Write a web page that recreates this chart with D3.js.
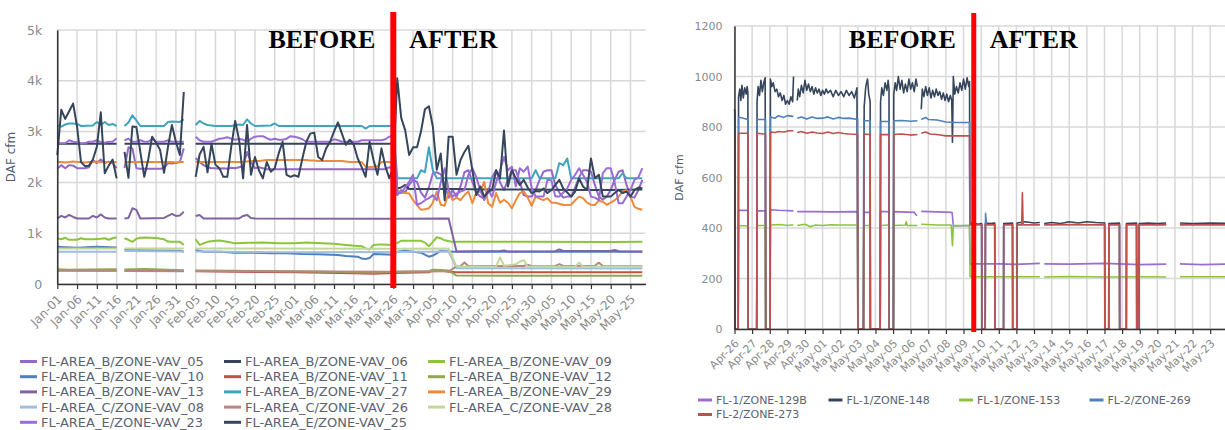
<!DOCTYPE html>
<html>
<head>
<meta charset="utf-8">
<script src="https://cdn.jsdelivr.net/npm/d3@7"></script>
<style>
  html, body { margin: 0; padding: 0; background: #fff; }
  svg { display: block; font-family: "DejaVu Sans", sans-serif; }
</style>
</head>
<body>
<svg id="chart" width="1225" height="430"></svg>
<script>
// ---------- left chart: days from Jan-01 2020, DAF cfm (null = no data) ----------
const leftTickLabels = ["Jan-01","Jan-06","Jan-11","Jan-16","Jan-21","Jan-26","Jan-31","Feb-05","Feb-10","Feb-15",
  "Feb-20","Feb-25","Mar-01","Mar-06","Mar-11","Mar-16","Mar-21","Mar-26","Mar-31","Apr-05","Apr-10","Apr-15",
  "Apr-20","Apr-25","Apr-30","May-05","May-10","May-15","May-20","May-25"];
const leftYTicks = [0, 1000, 2000, 3000, 4000, 5000];

// daily values (index = day)
const vav05 = [2270,2340,2280,2340,2330,2280,2280,2280,2300,2440,2380,2450,2380,2410,2380,2280,null,
  2280,2690,2670,2280,2270,2270,2270,2270,2270,2270,2280,2380,2370,2380,2400,2670,null,null,
  2480,2400,2340,2300,2280,2280,2270,2280,2270,2290,2280,2300,2320,2600,2400,2280,2300,2280,
  2260,2260,2260,2260,2260,2260,2260,2260,2260,2260,2260,2260,2260,2260,2260,2260,2260,2260,2260,2260,
  2260,2260,2260,2260,2260,2260,2260,2260,2260,2260,2260,2300,2250,
  1750,1850,1800,1950,2050,2010,1800,1700,1900,2180,2200,2160,1950,1700,1850,1720,1920,2200,2240,2010,
  1800,1720,1680,1800,2100,2240,2000,1850,2050,2240,2240,2010,1750,1720,1720,1850,2050,2210,2240,2240,
  1950,1800,1700,1720,1720,1900,2100,2240,2240,2210,1950,1720,1660,1720,1850,2050,2210,2240,1950,1720,
  1700,1850,2050];
const vav23 = [2770,2770,2770,2830,2800,2790,2770,2770,2800,2800,2830,2790,2780,2800,2800,2870,null,
  2830,2860,2800,2800,2830,2800,2800,2860,2800,2800,2800,2830,2800,2800,2800,2800,null,null,
  2900,2830,2800,2800,2800,2830,2860,2870,2890,2860,2840,2860,2840,2800,2860,2900,2910,2910,2870,2840,
  2860,2840,2840,2860,2910,2900,2880,2850,2800,2800,2800,2800,2800,2800,2800,2850,2830,2800,2800,2800,
  2800,2800,2830,2830,2830,2830,2830,2830,2850,2900,2920,
  1800,1790,1900,2010,2150,1560,1590,1650,1690,1750,1650,2000,2280,1850,1720,1780,1820,1850,2150,2280,
  2100,1850,1650,1850,1720,2000,2240,2500,2240,2310,1920,2280,2210,2310,1900,1720,1720,1720,2050,2040,
  1720,1720,1800,1880,2050,2150,2280,2150,2010,1720,1700,1650,2180,2280,2280,2000,1590,1590,1720,1850,
  2050,2100,2280];
const vav25 = [2540,3430,3250,3400,3550,3100,2400,2320,2330,2450,2700,3380,2180,2330,2450,2080,null,
  2600,2090,3100,3090,2600,2110,2450,2900,2780,2640,2190,2700,3130,2800,2540,3780,null,null,
  2110,2550,2700,2200,2760,2350,2280,2110,2110,2700,3210,2830,2080,3130,2150,2500,2240,2080,2400,2210,
  2280,2570,2800,2150,2110,2140,2110,2470,2800,2960,2980,2500,2440,2670,2800,3000,3180,2960,2740,2840,
  2740,2470,2300,2110,2800,2440,2150,2670,2310,2080,2300,
  4050,3270,3030,2540,2690,2690,3000,3440,3500,3100,2250,2570,1650,2900,2900,2150,2440,2600,2720,2240,
  1750,1920,1720,1820,1850,2240,2080,3020,1920,2240,2080,1950,2050,1900,1790,1830,1820,1880,1790,1850,
  1950,2050,1880,1800,1720,1820,2080,1920,1850,2470,2080,2150,1720,1720,1720,1790,1850,1790,1820,1720,
  1850,1900,1880];
const vav29 = [2400,2400,2390,2400,2410,2400,2400,2390,2400,2400,2410,2400,2400,2400,2390,2400,null,
  2390,2400,2400,2400,2400,2400,2400,2400,2400,2400,2400,2400,2400,2390,2400,2400,null,null,
  2400,2400,2400,2400,2400,2400,2400,2400,2400,2400,2400,2400,2400,2410,2420,2420,2420,2430,
  2440,2440,2440,2440,2440,2440,2440,2440,2440,2440,2440,2430,2430,2420,2420,2420,2420,2420,2420,2420,
  2410,2400,2400,2400,2400,2310,2300,2310,2320,2400,2400,2400,2400,
  1850,1800,1790,1780,1650,1555,1460,1470,1490,1600,1820,1560,1540,1820,1650,1700,1650,1750,1820,1590,
  1800,1820,2010,1590,1520,1790,1600,1660,1600,1490,1650,1790,1820,1700,1540,1720,1680,1650,1690,1600,
  1600,1580,1555,1555,1560,1650,1720,1690,1600,1560,1555,1640,1620,1560,1600,1650,1720,1820,1850,1720,
  1520,1480,1460];

// [day, value] pairs
const vav06 = [[0,2760],[15,2760],[16,null],[17,2760],[32,2760],[33,null],[35,2760],[85,2760],[86,1880],[87,1900],
  [88,1950],[89,1870],[100,1870],[110,1860],[120,1860],[130,1850],[140,1850],[148,1860]];
const vav09 = [[0,900],[1,880],[2,910],[3,870],[5,870],[6,900],[7,880],[9,880],[11,890],[12,900],[13,870],[14,900],
  [15,920],[16,null],[17,900],[18,870],[19,830],[20,890],[21,910],[22,915],[25,905],[27,880],[28,835],[29,830],[31,830],
  [32,770],[33,null],[35,880],[36,770],[37,800],[38,830],[40,850],[41,855],[43,830],[45,800],[48,810],[52,815],[56,800],
  [60,800],[63,815],[67,800],[70,790],[73,770],[76,750],[77,745],[78,700],[79,680],[80,770],[82,780],[85,770],[87,850],
  [92,850],[93,815],[94,745],[95,830],[96,920],[97,900],[98,860],[100,825],[101,830],[120,830],[140,825],[148,830]];
const vav10 = [[0,735],[2,725],[5,715],[10,735],[15,720],[16,null],[17,670],[25,660],[31,655],[32,636],[33,null],
  [35,670],[37,636],[41,636],[45,617],[50,617],[54,604],[58,604],[62,590],[66,584],[71,571],[73,551],[76,538],[77,500],
  [78,492],[79,510],[80,590],[85,575],[86,636],[88,656],[92,617],[94,538],[95,560],[96,604],[97,656],[100,636],[148,636]];
const vav11 = [[0,270],[15,265],[16,null],[17,265],[32,255],[33,null],[35,250],[45,240],[60,230],[75,210],[80,200],
  [85,215],[94,230],[95,270],[97,265],[99,240],[101,230],[148,230]];
const vav12 = [[0,290],[3,280],[8,285],[15,290],[16,null],[17,285],[22,295],[28,280],[32,270],[33,null],[35,265],
  [45,260],[60,250],[75,230],[80,220],[85,240],[94,250],[95,280],[97,275],[99,265],[101,165],[148,160]];
const vav13 = [[0,1290],[1,1340],[2,1310],[3,1360],[4,1320],[5,1290],[8,1290],[9,1340],[10,1310],[11,1370],[12,1310],
  [13,1290],[15,1290],[16,null],[17,1290],[18,1300],[19,1490],[20,1460],[21,1290],[27,1300],[28,1340],[29,1380],[30,1340],
  [31,1350],[32,1420],[33,null],[35,1340],[36,1360],[37,1290],[46,1290],[47,1340],[48,1360],[49,1300],[50,1290],
  [85,1285],[99,1290],[101,640],[112,650],[113,660],[114,640],[126,645],[127,680],[128,650],[140,650],[141,670],
  [142,645],[148,640]];
const vav27 = [[0,3120],[1,3100],[2,3140],[3,3160],[4,3160],[5,3150],[6,3110],[9,3120],[10,3190],[11,3130],[12,3190],
  [13,3130],[14,3150],[15,3110],[16,null],[17,3110],[18,3180],[19,3320],[20,3220],[21,3110],[27,3110],[28,3190],
  [29,3200],[31,3190],[32,3240],[33,null],[35,3130],[36,3210],[37,3160],[38,3130],[40,3110],[44,3110],[46,3140],
  [47,3130],[48,3240],[49,3160],[50,3110],[54,3120],[55,3160],[56,3110],[77,3110],[78,3060],[79,3110],[85,3110],
  [86,2080],[91,2080],[92,2240],[93,2200],[94,2690],[95,2240],[96,2080],[120,2080],[121,2240],[122,2080],[126,2080],
  [127,2380],[128,2340],[129,2470],[130,2080],[142,2080],[143,2180],[144,2080],[148,2080]];
const c08 = [[0,636],[15,636],[16,null],[17,650],[32,640],[33,null],[35,640],[60,625],[85,630],[99,640],[101,310],[148,305]];
const c26 = [[0,260],[15,260],[16,null],[17,255],[32,250],[33,null],[35,255],[85,240],[99,250],[101,345],[102,350],
  [103,425],[104,350],[118,355],[119,380],[120,350],[126,355],[127,390],[128,355],[136,360],[137,420],[138,355],[148,350]];
const c28 = [[0,700],[15,700],[16,null],[17,700],[32,700],[33,null],[35,700],[85,695],[99,700],[101,340],[111,340],
  [112,525],[113,360],[116,390],[117,440],[118,470],[119,340],[131,345],[132,420],[133,340],[148,340]];

const leftNames = ["FL-AREA_B/ZONE-VAV_05","FL-AREA_B/ZONE-VAV_06","FL-AREA_B/ZONE-VAV_09","FL-AREA_B/ZONE-VAV_10",
  "FL-AREA_B/ZONE-VAV_11","FL-AREA_B/ZONE-VAV_12","FL-AREA_B/ZONE-VAV_13","FL-AREA_B/ZONE-VAV_27","FL-AREA_B/ZONE-VAV_29",
  "FL-AREA_C/ZONE-VAV_08","FL-AREA_C/ZONE-VAV_26","FL-AREA_C/ZONE-VAV_28","FL-AREA_E/ZONE-VAV_23","FL-AREA_E/ZONE-VAV_25"];
const leftColors = ["#9467c8","#35465c","#8cc43c","#4f7fbd","#c0504d","#8ea84e","#8064a2","#3fa5bd","#ee8a3d",
  "#a0bde0","#b8877f","#c2d79a","#9b6cd6","#35465c"];
const leftValues = [daily(vav05), vav06, vav09, vav10, vav11, vav12, vav13, vav27, daily(vav29), c08, c26, c28,
  daily(vav23), daily(vav25)];

// ---------- right chart: days from Apr-26 2020 (fractional), DAF cfm ----------
const rightTickLabels = ["Apr-26","Apr-27","Apr-28","Apr-29","Apr-30","May-01","May-02","May-03","May-04","May-05",
  "May-06","May-07","May-08","May-09","May-10","May-11","May-12","May-13","May-14","May-15","May-16","May-17","May-18",
  "May-19","May-20","May-21","May-22","May-23"];
const rightYTicks = [0, 200, 400, 600, 800, 1000, 1200];

const z129b = [[0,0],[0.21,0],[0.23,470],[0.76,470],[0.77,0],[1.26,0],[1.28,468],[1.76,468],[1.77,0],[2.02,0],
  [2.04,472],[2.5,470],[3.34,468],[3.45,null],[3.56,465],[4.5,465],[5.5,464],[6.99,465],[7.0,0],[7.32,0],[7.34,462],
  [7.7,462],[7.71,0],[8.27,0],[8.29,465],[8.77,465],[8.78,0],[9.02,0],[9.04,465],[10.2,462],[10.35,448],[10.5,null],
  [10.6,466],[11.5,464],[12.35,462],[12.42,408],[13.34,410],[13.37,258],[15,258],[16,256],[17.33,260],[17.45,null],
  [17.58,258],[19,257],[21,260],[23,255],[24.5,257],[24.9,null],[25.28,258],[26.5,255],[27.9,257]];
const z148 = [[0,870],[0.02,860],[0.03,0],[0.21,0],[0.23,920],[0.3,950],[0.36,905],[0.42,965],[0.5,915],[0.58,955],
  [0.66,930],[0.72,960],[0.76,935],[0.77,0],[1.26,0],[1.28,900],[1.34,960],[1.42,925],[1.5,985],[1.58,940],[1.66,975],
  [1.74,995],[1.77,0],[2.02,0],[2.04,990],[2.12,960],[2.2,975],[2.3,940],[2.4,950],[2.5,920],[2.6,935],[2.7,905],
  [2.8,925],[2.9,890],[3.0,905],[3.1,890],[3.2,920],[3.3,900],[3.35,1000],[3.45,null],[3.56,905],[3.62,950],[3.7,920],
  [3.8,965],[3.9,935],[4.0,985],[4.1,945],[4.2,970],[4.3,940],[4.4,960],[4.5,930],[4.6,955],[4.7,935],[4.8,950],
  [4.9,925],[5.0,945],[5.1,930],[5.2,950],[5.3,935],[5.45,945],[5.6,920],[5.75,945],[5.9,925],[6.05,940],[6.2,920],
  [6.35,945],[6.5,925],[6.65,940],[6.8,915],[6.95,955],[7.0,0],[7.32,0],[7.36,880],[7.45,960],[7.55,990],[7.62,930],
  [7.7,900],[7.71,0],[8.27,0],[8.29,900],[8.36,955],[8.45,925],[8.55,975],[8.65,945],[8.72,985],[8.77,950],[8.78,0],
  [9.02,0],[9.04,930],[9.12,975],[9.2,945],[9.3,1000],[9.4,950],[9.5,985],[9.6,935],[9.7,970],[9.8,940],[9.9,990],
  [10.0,950],[10.1,975],[10.2,940],[10.3,990],[10.38,960],[10.5,null],[10.6,870],[10.66,950],[10.75,920],[10.85,960],
  [10.95,925],[11.05,955],[11.15,915],[11.25,945],[11.35,920],[11.45,950],[11.55,925],[11.65,940],[11.75,910],
  [11.85,935],[11.95,905],[12.05,930],[12.15,900],[12.25,925],[12.33,905],[12.37,740],[12.42,1000],[12.5,930],
  [12.6,960],[12.7,935],[12.8,975],[12.9,945],[13.0,990],[13.1,950],[13.2,995],[13.3,960],[13.34,980],[13.36,418],
  [13.6,420],[13.8,415],[14.03,418],[14.04,0],[14.23,0],[14.24,420],[14.5,418],[14.77,420],[14.78,0],[15.27,0],
  [15.28,418],[15.78,420],[15.79,0],[16.03,0],[16.04,420],[16.5,425],[17.0,420],[17.33,422],[17.45,null],[17.58,418],
  [18.0,422],[18.5,418],[19.0,425],[19.5,420],[20.0,425],[20.5,422],[21.01,420],[21.02,0],[21.24,0],[21.25,418],
  [21.85,420],[21.86,0],[22.24,0],[22.25,418],[22.82,420],[22.83,0],[22.96,0],[22.97,418],[23.5,420],[24.0,418],
  [24.5,420],[24.9,null],[25.28,420],[26,418],[27,420],[27.9,418]];
const z153 = [[0,0],[0.21,0],[0.23,410],[0.76,408],[0.77,0],[1.26,0],[1.28,410],[1.76,410],[1.77,0],[2.02,0],
  [2.04,412],[2.6,414],[3.0,410],[3.34,413],[3.45,null],[3.56,410],[4.0,415],[4.3,405],[4.6,412],[5.0,410],[5.5,413],
  [6.0,412],[6.99,412],[7.0,0],[7.32,0],[7.34,410],[7.7,410],[7.71,0],[8.27,0],[8.29,410],[8.77,412],[8.78,0],[9.02,0],
  [9.04,410],[9.7,412],[9.75,425],[9.8,410],[10.38,410],[10.5,null],[10.6,415],[11.5,412],[12.3,412],[12.37,330],
  [12.42,410],[13.34,410],[13.37,207],[15,207],[17.33,207],[17.45,null],[17.58,206],[19,208],[21,206],[23,207],
  [24.5,206],[24.9,null],[25.28,207],[27.9,207]];
const z269 = [[0,830],[0.02,830],[0.03,0],[0.21,0],[0.23,840],[0.76,830],[0.77,0],[1.26,0],[1.28,830],[1.76,830],
  [1.77,0],[2.02,0],[2.04,840],[2.3,835],[2.5,845],[2.8,838],[3.0,845],[3.34,842],[3.45,null],[3.56,835],[3.8,840],
  [4.1,832],[4.4,840],[4.7,834],[5.0,835],[5.3,840],[5.6,832],[5.9,838],[6.2,834],[6.5,835],[6.99,830],[7.0,0],[7.32,0],
  [7.34,825],[7.7,825],[7.71,0],[8.27,0],[8.29,822],[8.77,822],[8.78,0],[9.02,0],[9.04,825],[9.5,826],[10.0,823],
  [10.38,825],[10.5,null],[10.6,830],[10.85,838],[11.0,830],[11.5,828],[12.0,820],[12.6,818],[13.34,818],[13.36,413],
  [14.03,413],[14.04,0],[14.23,0],[14.25,458],[14.3,413],[14.77,413],[14.78,0],[15.27,0],[15.28,413],[15.78,413],
  [15.79,0],[16.03,0],[16.04,413],[17.33,413],[17.45,null],[17.58,413],[21.01,413],[21.02,0],[21.24,0],[21.25,413],
  [21.85,413],[21.86,0],[22.24,0],[22.25,413],[22.82,413],[22.83,0],[22.92,0],[22.94,148],[22.96,0],[22.97,413],
  [24.5,413],[24.9,null],[25.28,413],[27.9,413]];
const z273 = [[0,770],[0.02,770],[0.03,0],[0.21,0],[0.23,775],[0.76,775],[0.77,0],[1.26,0],[1.28,775],[1.76,772],
  [1.77,0],[2.02,0],[2.04,780],[2.3,778],[2.5,782],[2.8,780],[3.1,785],[3.34,785],[3.45,null],[3.56,778],[3.8,782],
  [4.1,775],[4.4,780],[4.7,776],[5.0,774],[5.3,780],[5.6,774],[5.9,778],[6.2,774],[6.5,772],[6.99,770],[7.0,0],[7.32,0],
  [7.34,772],[7.7,770],[7.71,0],[8.27,0],[8.29,770],[8.77,770],[8.78,0],[9.02,0],[9.04,770],[9.5,772],[10.0,768],
  [10.38,770],[10.5,null],[10.6,775],[10.85,780],[11.1,772],[11.5,770],[12.0,765],[12.6,765],[13.34,765],[13.36,413],
  [14.03,413],[14.04,0],[14.23,0],[14.24,413],[14.77,413],[14.78,0],[15.27,0],[15.28,413],[15.78,413],[15.79,0],
  [16.03,0],[16.04,413],[16.3,413],[16.34,540],[16.38,413],[17.33,413],[17.45,null],[17.58,413],[19,414],[21.01,413],
  [21.02,0],[21.24,0],[21.25,413],[21.85,413],[21.86,0],[22.24,0],[22.25,413],[22.82,413],[22.83,0],[22.9,0],
  [22.96,413],[24.5,413],[24.9,null],[25.28,413],[27.9,413]];

const rightNames = ["FL-1/ZONE-129B","FL-1/ZONE-148","FL-1/ZONE-153","FL-2/ZONE-269","FL-2/ZONE-273"];
const rightColors = ["#9a6dd2","#35465c","#8cc43c","#4f7fbd","#c0504d"];
const rightValues = [z129b, z148, z153, z269, z273];

// ---------- drawing ----------
const DAY = 864e5;
const parseTick = d3.utcParse("%Y-%b-%d");
const svg = d3.select("#chart");

function daily(arr) { return arr.map((v, i) => [i, v]); }

function drawPanel(p) {
  const g = svg.append("g");
  const t0 = Date.UTC(2020, p.startMonth, p.startDay);
  const x = d3.scaleUtc()
    .domain([new Date(t0), new Date(t0 + p.spanDays * DAY)])
    .range([p.left, p.right]);
  const y = d3.scaleLinear().domain([0, p.yMax]).range([p.bottom, p.top]);
  const tickDates = p.tickLabels.map(s => parseTick("2020-" + s));

  // grid
  g.append("g").selectAll("line").data(tickDates).join("line")
    .attr("x1", d => x(d)).attr("x2", d => x(d))
    .attr("y1", p.top).attr("y2", p.bottom)
    .attr("stroke", "#d8d8d8").attr("stroke-width", 1.5);
  g.append("g").selectAll("line").data(p.yTicks).join("line")
    .attr("x1", p.left).attr("x2", p.right)
    .attr("y1", d => y(d)).attr("y2", d => y(d))
    .attr("stroke", "#d8d8d8").attr("stroke-width", 1.5);

  // series
  const line = d3.line()
    .defined(d => d[1] != null)
    .x(d => x(new Date(t0 + d[0] * DAY)))
    .y(d => y(d[1]));
  g.append("g").selectAll("path").data(p.values).join("path")
    .attr("d", d => line(d))
    .attr("fill", "none")
    .attr("stroke", (d, i) => p.colors[i])
    .attr("stroke-width", p.lineWidth)
    .attr("stroke-linejoin", "round");

  // axes
  const xAxis = g.append("g")
    .attr("transform", `translate(0,${p.bottom})`)
    .call(d3.axisBottom(x).tickValues(tickDates).tickFormat(d3.utcFormat("%b-%d")).tickSize(5).tickSizeOuter(0));
  xAxis.selectAll("line").attr("stroke", "#333").attr("stroke-width", 1.2);
  xAxis.select(".domain").attr("stroke", "#333").attr("stroke-width", 1.5);
  xAxis.selectAll("text")
    .attr("x", 0).attr("y", 0).attr("dy", "0.35em")
    .attr("transform", `translate(2,${p.tickFont * 0.75 + 4}) rotate(-45)`)
    .style("text-anchor", "end")
    .attr("fill", "#8a8a8a")
    .style("font-size", p.tickFont + "px")
    .style("font-family", "DejaVu Sans");

  const yAxis = g.append("g")
    .attr("transform", `translate(${p.left},0)`)
    .call(d3.axisLeft(y).tickValues(p.yTicks).tickFormat(p.yFormat).tickSize(0).tickPadding(p.yPad));
  yAxis.select(".domain").attr("stroke", "#333").attr("stroke-width", 1.5);
  yAxis.selectAll("text")
    .attr("fill", "#8a8a8a")
    .style("font-size", p.yFont + "px")
    .style("font-family", "DejaVu Sans");

  g.append("text")
    .attr("transform", `translate(${p.titleX},${(p.top + p.bottom) / 2}) rotate(-90)`)
    .attr("text-anchor", "middle").attr("dy", "0.35em")
    .attr("fill", "#4e5d70")
    .style("font-size", p.titleFont + "px")
    .text("DAF cfm");

  // before / after marker
  const mx = x(new Date(t0 + p.markerDay * DAY));
  g.append("line")
    .attr("x1", mx).attr("x2", mx).attr("y1", p.markerTop).attr("y2", p.markerBottom)
    .attr("stroke", "#ff0000").attr("stroke-width", p.markerWidth);
  g.append("text")
    .attr("x", mx - 18).attr("y", 48).attr("text-anchor", "end")
    .style("font-family", "Liberation Serif").style("font-weight", "bold").style("font-size", "26px")
    .attr("fill", "#000").text("BEFORE");
  g.append("text")
    .attr("x", mx + 16).attr("y", 48)
    .style("font-family", "Liberation Serif").style("font-weight", "bold").style("font-size", "26px")
    .attr("fill", "#000").text("AFTER");

  // legend
  const lg = g.append("g").selectAll("g").data(p.names).join("g")
    .attr("transform", (d, i) => `translate(${p.legX + (i % p.legCols) * p.legColW},${p.legY + Math.floor(i / p.legCols) * p.legRowH})`);
  lg.append("line")
    .attr("x1", 0).attr("x2", p.legLine).attr("y1", 0).attr("y2", 0)
    .attr("stroke", (d, i) => p.colors[i]).attr("stroke-width", 3);
  lg.append("text")
    .attr("x", p.legLine + 4).attr("dy", "0.35em")
    .attr("fill", "#5b6373")
    .style("font-size", p.legFont + "px")
    .text(d => d);
}

drawPanel({
  startMonth: 0, startDay: 1, spanDays: 148.8,
  left: 57.3, right: 645.5, top: 30, bottom: 284,
  yMax: 5000, yTicks: leftYTicks, yFormat: d => d === 0 ? "0" : d / 1000 + "k", yPad: 15, yFont: 12.5,
  tickLabels: leftTickLabels, tickFont: 12,
  values: leftValues, colors: leftColors, names: leftNames, lineWidth: 2,
  titleX: 11, titleFont: 12,
  markerDay: 85, markerTop: 12, markerBottom: 288, markerWidth: 6,
  legX: 20, legY: 361.5, legCols: 3, legColW: 204, legRowH: 15.2, legLine: 17, legFont: 13
});

drawPanel({
  startMonth: 3, startDay: 26, spanDays: 27.84,
  left: 734.5, right: 1225, top: 26, bottom: 329,
  yMax: 1200, yTicks: rightYTicks, yFormat: d3.format("d"), yPad: 12, yFont: 11,
  tickLabels: rightTickLabels, tickFont: 11,
  values: rightValues, colors: rightColors, names: rightNames, lineWidth: 1.6,
  titleX: 679, titleFont: 11,
  markerDay: 13.58, markerTop: 13, markerBottom: 332, markerWidth: 5,
  legX: 698, legY: 400, legCols: 4, legColW: 130.5, legRowH: 14.5, legLine: 14, legFont: 11
});
</script>
</body>
</html>
